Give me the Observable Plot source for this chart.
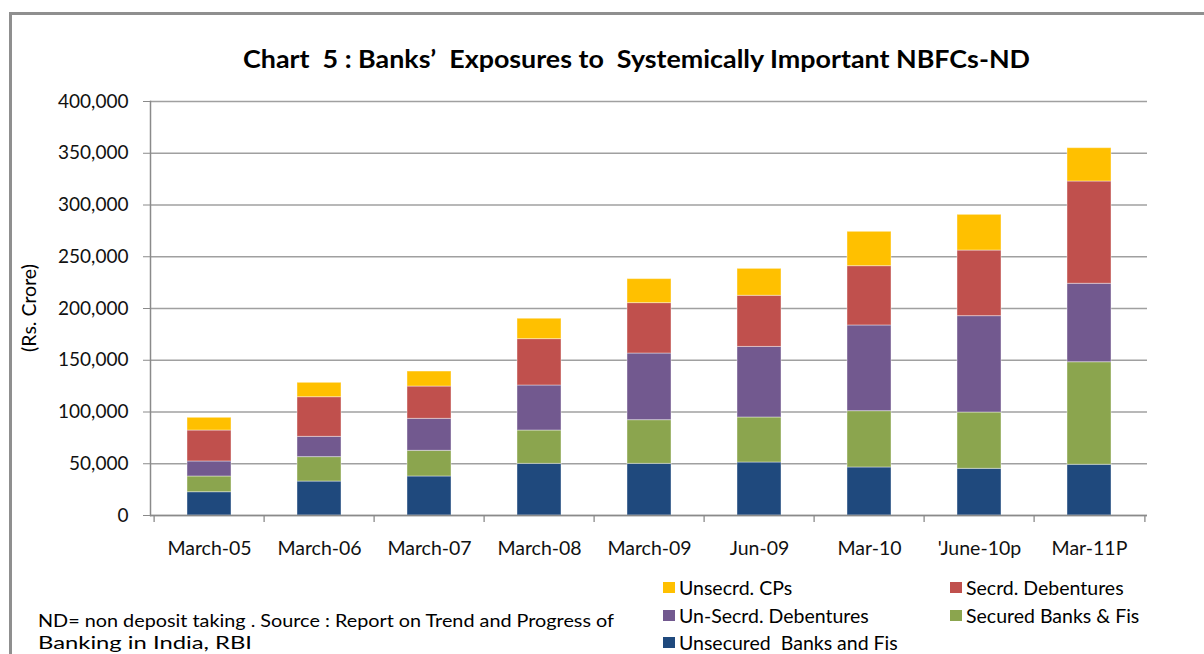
<!DOCTYPE html>
<html><head><meta charset="utf-8">
<script src="https://cdn.jsdelivr.net/npm/d3@7"></script>
<script src="https://cdn.jsdelivr.net/npm/@observablehq/plot@0.6"></script>
<style>
body{margin:0;background:#fff;}
#wrap{position:relative;width:1204px;height:654px;overflow:hidden;font-family:Lato,sans-serif;color:#000;background:#fff;}
#frame{position:absolute;left:9px;top:12px;width:1300px;height:700px;border-top:3px solid #8f8f8f;border-left:3px solid #8f8f8f;}
#chart{position:absolute;left:0;top:0;}
.t{position:absolute;white-space:nowrap;line-height:1;}
#title{font-weight:bold;font-size:24px;left:243px;top:47px;transform-origin:left center;}
#ylab{font-size:19.5px;left:29px;top:308px;transform:translate(-50%,-50%) rotate(-90deg);}
.lg{position:absolute;font-size:19.5px;line-height:1;white-space:pre;}
.sw{position:absolute;width:12px;height:11px;}
.note{font-size:18px;left:38px;transform-origin:left center;}
</style></head>
<body><div id="wrap"><div id="frame"></div><div id="chart"></div>
<div class="t" id="title" data-w="787">Chart&nbsp; 5 : Banks’&nbsp; Exposures to&nbsp; Systemically Important NBFCs-ND</div>
<div class="t" id="ylab">(Rs. Crore)</div>
<div id="legend"></div>
<div class="t note" style="top:611px" data-w="576">ND= non deposit taking . Source : Report on Trend and Progress of</div>
<div class="t note" style="top:633px" data-w="214">Banking in India, RBI</div>
</div>
<script>
const categories = ["March-05","March-06","March-07","March-08","March-09","Jun-09","Mar-10","'June-10p","Mar-11P"];
const seriesNames = ["Unsecured  Banks and Fis","Secured Banks & Fis","Un-Secrd. Debentures","Secrd. Debentures","Unsecrd. CPs"];
const seriesColors = ["#1f497d","#8ba54e","#72598f","#c0504d","#ffc000"];
const unsecuredBanks = [22500,32800,37700,49900,49900,51200,46400,45100,49000];
const securedBanks   = [15200,23600,24800,32200,42200,43500,54400,54400,99100];
const unsecrdDebs    = [14500,19600,30900,43500,64400,68200,82800,93100,75800];
const secrdDebs      = [29900,38300,31200,44800,48700,49400,57300,63400,98800];
const unsecrdCPs     = [12300,13900,14500,19700,23200,26000,33200,34500,32200];
const yTicks = [0,50000,100000,150000,200000,250000,300000,350000,400000];
const legendOrder = ["Unsecrd. CPs","Secrd. Debentures","Un-Secrd. Debentures","Secured Banks & Fis","Unsecured  Banks and Fis"];

const seriesValues = [unsecuredBanks, securedBanks, unsecrdDebs, secrdDebs, unsecrdCPs];
const data = [];
seriesNames.forEach((s, k) => categories.forEach((c, i) => data.push({cat: c, series: s, value: seriesValues[k][i]})));

const W = 1204, H = 580, mL = 150, mR = 57, mT = 101, mB = 65;
const step = (W - mL - mR) / categories.length;
const axisGray = "#8a8a8a";

const chart = Plot.plot({
  width: W, height: H, marginLeft: mL, marginRight: mR, marginTop: mT, marginBottom: mB,
  style: {fontFamily: "Lato, sans-serif", fontSize: "19px", color: "#000", background: "transparent"},
  x: {domain: categories, paddingInner: 0.6, paddingOuter: 0.3, label: null},
  y: {domain: [0, 400000], label: null},
  color: {domain: seriesNames, range: seriesColors},
  marks: [
    Plot.gridY(yTicks, {stroke: "#a0a0a0", strokeOpacity: 1, strokeWidth: 1.3}),
    Plot.barY(data, {x: "cat", y: "value", fill: "series", order: seriesNames, stroke: "#ffffff", strokeOpacity: 0.4, strokeWidth: 1}),
    Plot.ruleY([0], {stroke: axisGray, strokeWidth: 1.5}),
    Plot.frame({anchor: "left", stroke: axisGray, strokeWidth: 1.5}),
    Plot.axisY(yTicks, {tickFormat: d3.format(","), tickSize: 7, tickPadding: 15, stroke: axisGray, fill: "#111", fontSize: 19, label: null}),
    Plot.axisX({tickSize: 0, tickPadding: 26, fontSize: 19.5, fill: "#111", label: null}),
    Plot.ruleX(categories, {x: d => d, y1: 0, y2: 0, insetBottom: -7, dx: -step / 2, stroke: axisGray, strokeWidth: 1.3}),
    Plot.ruleX(categories.slice(-1), {x: d => d, y1: 0, y2: 0, insetBottom: -7, dx: step / 2, stroke: axisGray, strokeWidth: 1.3})
  ]
});
document.getElementById("chart").appendChild(chart);

// legend
const colorOf = Object.fromEntries(seriesNames.map((s, i) => [s, seriesColors[i]]));
const lg = document.getElementById("legend");
const colX = [663, 950], rowY = [588, 616, 643];
legendOrder.forEach((s, i) => {
  const cx = colX[i % 2], cy = rowY[Math.floor(i / 2)];
  const sw = document.createElement("div");
  sw.className = "sw"; sw.style.background = colorOf[s];
  sw.style.left = cx + "px"; sw.style.top = (cy - 6) + "px";
  lg.appendChild(sw);
  const tx = document.createElement("div");
  tx.className = "lg"; tx.textContent = s;
  tx.style.left = (cx + 16) + "px"; tx.style.top = (cy - 10) + "px";
  lg.appendChild(tx);
});

// fit text widths
document.querySelectorAll("[data-w]").forEach(el => {
  const target = +el.dataset.w;
  const w = el.getBoundingClientRect().width;
  if (w > 0) el.style.transform = `scaleX(${target / w})`;
});
</script>
</body></html>
